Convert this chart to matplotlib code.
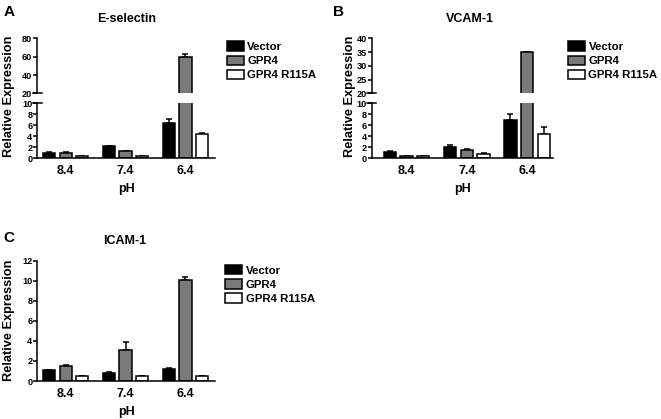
import numpy as np
import matplotlib.pyplot as plt

plt.rcParams['font.family'] = ['Liberation Sans', 'DejaVu Sans']
plt.rcParams['font.weight'] = 'bold'
plt.rcParams['axes.labelweight'] = 'bold'
plt.rcParams['axes.titleweight'] = 'bold'

PH = ['8.4', '7.4', '6.4']
SERIES = ['Vector', 'GPR4', 'GPR4 R115A']
COLORS = ['black', '#7a7a7a', 'white']

# E-selectin
esel_vector = [1.0, 2.1, 6.4]
esel_vector_err = [0.05, 0.1, 0.7]
esel_gpr4 = [1.0, 1.2, 60.0]
esel_gpr4_err = [0.15, 0.05, 2.5]
esel_r115a = [0.4, 0.4, 4.4]
esel_r115a_err = [0.05, 0.05, 0.1]

# VCAM-1
vcam_vector = [1.1, 2.0, 7.0]
vcam_vector_err = [0.15, 0.45, 1.0]
vcam_gpr4 = [0.4, 1.5, 35.0]
vcam_gpr4_err = [0.05, 0.15, 0.0]
vcam_r115a = [0.35, 0.75, 4.4]
vcam_r115a_err = [0.05, 0.2, 1.3]

# ICAM-1
icam_vector = [1.05, 0.8, 1.2]
icam_vector_err = [0.05, 0.05, 0.05]
icam_gpr4 = [1.45, 3.05, 10.05]
icam_gpr4_err = [0.1, 0.8, 0.35]
icam_r115a = [0.5, 0.5, 0.5]
icam_r115a_err = [0.03, 0.03, 0.03]

W, H = 661, 419
WIDTH = 0.205
OFFSET = 0.277
LW = 1.1

XLIM = {
  'E-selectin': (-0.475, 2.495),
  'VCAM-1': (-0.58, 2.43),
  'ICAM-1': (-0.475, 2.495),
}
TITLE_X = {'E-selectin': 0.5, 'VCAM-1': 0.54, 'ICAM-1': 0.49}


def box(left, right, top, bottom):
  # pixel box -> figure fraction
  return [left / W, 1 - bottom / H, (right - left) / W, (bottom - top) / H]


def draw_bars(ax, vals, errs):
  x = np.arange(len(PH))
  for i, (v, e, c) in enumerate(zip(vals, errs, COLORS)):
    xs = x + (i - 1) * OFFSET
    ax.bar(xs, v, WIDTH, color=c, edgecolor='black', linewidth=LW, zorder=2, label=SERIES[i])
    ax.errorbar(xs, v, yerr=[np.zeros(len(v)), e], fmt='none', ecolor='black',
                elinewidth=LW, capsize=2.4, capthick=LW, zorder=1)


def style(ax, xlim):
  ax.set_xlim(*xlim)
  for s in ['top', 'right']:
    ax.spines[s].set_visible(False)
  for s in ['left', 'bottom']:
    ax.spines[s].set_linewidth(LW)
  ax.tick_params(axis='y', labelsize=6.6, length=2.8, width=LW, pad=0.8)
  ax.tick_params(axis='x', labelsize=9, length=0, pad=5)


def broken_panel(fig, left, right, vals, errs, up_lim, up_ticks, title):
  ax_lo = fig.add_axes(box(left, right, 103, 158))
  ax_up = fig.add_axes(box(left, right, 38.3, 93.5))
  for ax in (ax_lo, ax_up):
    draw_bars(ax, vals, errs)
  style(ax_lo, XLIM[title])
  style(ax_up, XLIM[title])
  ax_lo.set_ylim(0, 10)
  ax_lo.set_yticks([0, 2, 4, 6, 8, 10])
  ax_lo.set_xticks(np.arange(len(PH)), PH)
  ax_lo.set_xlabel('pH', fontsize=9, labelpad=4.5)
  ax_up.set_ylim(*up_lim)
  ax_up.set_yticks(up_ticks)
  ax_up.spines['bottom'].set_visible(False)
  ax_up.set_xticks([])
  # break marks on the y axis
  ax_up.plot([-0.025, 0.025], [0, 0], transform=ax_up.transAxes, color='black', lw=LW, clip_on=False)
  ax_lo.plot([-0.025, 0.025], [1, 1], transform=ax_lo.transAxes, color='black', lw=LW, clip_on=False)
  ax_up.set_title(title, fontsize=9, pad=12, x=TITLE_X[title])
  return ax_lo, ax_up


fig = plt.figure(figsize=(W / 100, H / 100), dpi=100)

# Panel A
ax_a, _ = broken_panel(fig, 37.3, 215, [esel_vector, esel_gpr4, esel_r115a],
                       [esel_vector_err, esel_gpr4_err, esel_r115a_err],
                       (20, 80), [20, 40, 60, 80], 'E-selectin')
fig.text(9.3 / W, 1 - 96.5 / H, 'Relative Expression', rotation=90, ha='center', va='center', fontsize=9.2)
fig.text(9 / W, 1 - 11.5 / H, 'A', ha='center', va='center', fontsize=11)

# Panel B
ax_b, _ = broken_panel(fig, 371.7, 553, [vcam_vector, vcam_gpr4, vcam_r115a],
                       [vcam_vector_err, vcam_gpr4_err, vcam_r115a_err],
                       (20, 40), [20, 25, 30, 35, 40], 'VCAM-1')
fig.text(350.5 / W, 1 - 96.5 / H, 'Relative Expression', rotation=90, ha='center', va='center', fontsize=9.2)
fig.text(338 / W, 1 - 12 / H, 'B', ha='center', va='center', fontsize=11)

# Panel C
ax_c = fig.add_axes(box(37.3, 215, 260.7, 381))
draw_bars(ax_c, [icam_vector, icam_gpr4, icam_r115a], [icam_vector_err, icam_gpr4_err, icam_r115a_err])
style(ax_c, XLIM['ICAM-1'])
ax_c.set_ylim(0, 12)
ax_c.set_yticks([0, 2, 4, 6, 8, 10, 12])
ax_c.set_xticks(np.arange(len(PH)), PH)
ax_c.set_xlabel('pH', fontsize=9, labelpad=4.5)
ax_c.set_title('ICAM-1', fontsize=9, pad=12, x=TITLE_X['ICAM-1'])
fig.text(9.3 / W, 1 - 320 / H, 'Relative Expression', rotation=90, ha='center', va='center', fontsize=9.2)
fig.text(9 / W, 1 - 238 / H, 'C', ha='center', va='center', fontsize=11)

# legends
leg_kw = dict(loc='upper left', frameon=False, fontsize=8.2, handlelength=1.5, handleheight=0.9,
              handletextpad=0.3, labelspacing=0.3, borderpad=0, borderaxespad=0)
for ax, (lx, ly) in [(ax_a, (226.7, 41.5)), (ax_b, (568, 41.5)), (ax_c, (225, 265))]:
  h, l = ax.get_legend_handles_labels()
  fig.legend(h, l, bbox_to_anchor=(lx / W, 1 - ly / H), **leg_kw)

plt.savefig('out.png', dpi=100)
